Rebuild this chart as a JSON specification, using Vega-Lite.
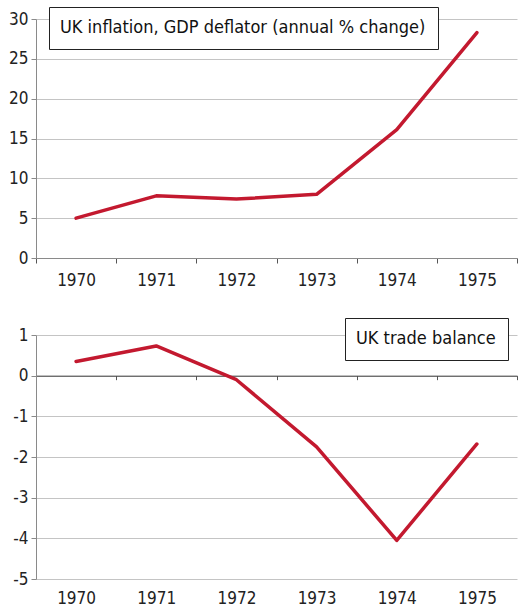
{
  "$schema": "https://vega.github.io/schema/vega-lite/v6.json",
  "padding": {"left": 8, "top": 6, "right": 0, "bottom": 0},
  "background": "white",
  "spacing": 29,
  "config": {
    "font": "DejaVu Sans Condensed",
    "view": {"stroke": null},
    "axis": {
      "labelFont": "DejaVu Sans Condensed",
      "labelFontSize": 17,
      "labelColor": "#222",
      "title": null,
      "gridColor": "#c4c4c4",
      "gridWidth": 1,
      "domainColor": "#8a8a8a",
      "tickColor": "#555",
      "tickSize": 5
    },
    "legend": {
      "labelFont": "DejaVu Sans Condensed"
    }
  },
  "vconcat": [
    {
      "width": 481,
      "height": 239,
      "data": {"values": [
        {"year": "1970", "value": 5.0, "series": "UK inflation, GDP deflator (annual % change)"},
        {"year": "1971", "value": 7.8, "series": "UK inflation, GDP deflator (annual % change)"},
        {"year": "1972", "value": 7.4, "series": "UK inflation, GDP deflator (annual % change)"},
        {"year": "1973", "value": 8.0, "series": "UK inflation, GDP deflator (annual % change)"},
        {"year": "1974", "value": 16.1, "series": "UK inflation, GDP deflator (annual % change)"},
        {"year": "1975", "value": 28.3, "series": "UK inflation, GDP deflator (annual % change)"}
      ]},
      "mark": {"type": "line", "strokeWidth": 3.5, "strokeCap": "round", "strokeJoin": "round"},
      "encoding": {
        "x": {
          "field": "year", "type": "ordinal",
          "scale": {"type": "band", "paddingInner": 0, "paddingOuter": 0},
          "bandPosition": 0.5,
          "axis": {"labelAngle": 0, "tickBand": "extent", "grid": false, "labelPadding": 9, "domainColor": "#8a8a8a", "tickColor": "#555"}
        },
        "y": {
          "field": "value", "type": "quantitative",
          "scale": {"domain": [0, 30], "nice": false},
          "axis": {"values": [0, 5, 10, 15, 20, 25, 30], "tickColor": "#8a8a8a", "labelPadding": 3}
        },
        "color": {
          "field": "series", "type": "nominal",
          "scale": {"range": ["#c3192f"]},
          "legend": {
            "orient": "none", "legendX": 13, "legendY": -12,
            "title": null, "strokeColor": "#222", "fillColor": "white",
            "padding": 12, "symbolOpacity": 0, "symbolSize": 1, "symbolStrokeWidth": 0,
            "labelOffset": -19, "labelFontSize": 18, "labelColor": "#111", "labelLimit": 0
          }
        }
      }
    },
    {
      "width": 481,
      "height": 244,
      "data": {"values": [
        {"year": "1970", "value": 0.35, "series": "UK trade balance"},
        {"year": "1971", "value": 0.73, "series": "UK trade balance"},
        {"year": "1972", "value": -0.1, "series": "UK trade balance"},
        {"year": "1973", "value": -1.75, "series": "UK trade balance"},
        {"year": "1974", "value": -4.05, "series": "UK trade balance"},
        {"year": "1975", "value": -1.68, "series": "UK trade balance"}
      ]},
      "mark": {"type": "line", "strokeWidth": 3.5, "strokeCap": "round", "strokeJoin": "round"},
      "encoding": {
        "x": {
          "field": "year", "type": "ordinal",
          "scale": {"type": "band", "paddingInner": 0, "paddingOuter": 0},
          "bandPosition": 0.5,
          "axis": {"labelAngle": 0, "tickBand": "extent", "grid": false, "offset": -203.33, "labelPadding": 211, "domainColor": "#444", "tickColor": "#555", "tickSize": 4}
        },
        "y": {
          "field": "value", "type": "quantitative",
          "scale": {"domain": [-5, 1], "nice": false},
          "axis": {"values": [-5, -4, -3, -2, -1, 0, 1], "tickColor": "#8a8a8a", "labelPadding": 3, "labelExpr": "replace(datum.label, '\u2212', '-')"}
        },
        "color": {
          "field": "series", "type": "nominal",
          "scale": {"range": ["#c3192f"]},
          "legend": {
            "orient": "none", "legendX": 309, "legendY": -17,
            "title": null, "strokeColor": "#222", "fillColor": "white",
            "padding": 12, "symbolOpacity": 0, "symbolSize": 1, "symbolStrokeWidth": 0,
            "labelOffset": -19, "labelFontSize": 18, "labelColor": "#111", "labelLimit": 0
          }
        }
      }
    }
  ],
  "resolve": {"scale": {"color": "independent"}, "legend": {"color": "independent"}}
}
